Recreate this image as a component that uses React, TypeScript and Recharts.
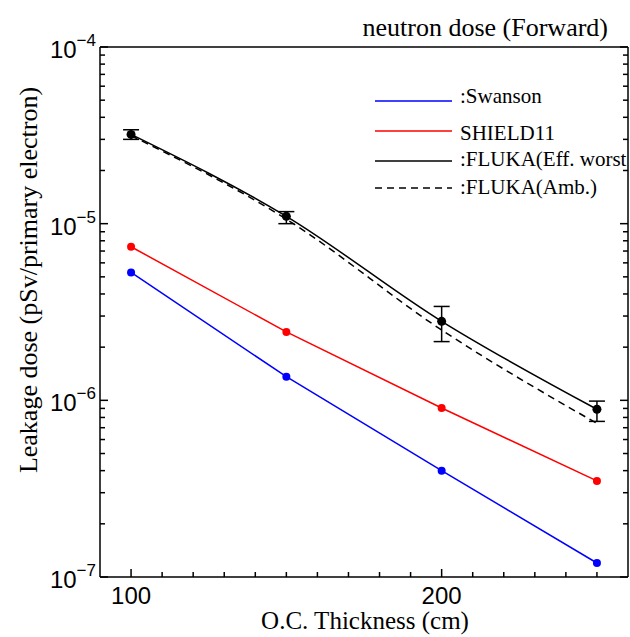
import { ComposedChart, Line, XAxis, YAxis, ErrorBar } from "recharts";

const SERIF = "'Liberation Serif', 'Times New Roman', serif";
const SANS = "'Liberation Sans', Arial, sans-serif";

// O.C. thickness (cm)
const thickness = [100, 150, 200, 250];
// leakage dose (pSv / primary electron)
const swanson = [5.3e-6, 1.36e-6, 4.0e-7, 1.2e-7];
const shield11 = [7.4e-6, 2.44e-6, 9.05e-7, 3.5e-7];
const flukaEff = [3.2e-5, 1.1e-5, 2.8e-6, 8.9e-7];
const flukaEffLow = [3.0e-5, 1.0e-5, 2.15e-6, 7.6e-7];
const flukaEffHigh = [3.4e-5, 1.17e-5, 3.4e-6, 9.9e-7];
const flukaAmb = [3.15e-5, 1.06e-5, 2.5e-6, 7.4e-7];

const xTicks = [100, 110, 120, 130, 140, 150, 160, 170, 180, 190, 200, 210, 220, 230, 240, 250];
const xMajor = [100, 200];
const yDecades = [1e-7, 1e-6, 1e-5];
const yMantissas = [1, 2, 3, 4, 5, 6, 7, 8, 9];
const yTicks = [...yDecades.flatMap((d) => yMantissas.map((m) => m * d)), 1e-4];

const data = thickness.map((t, i) => ({
  t,
  swanson: swanson[i],
  shield11: shield11[i],
  flukaEff: flukaEff[i],
  effErr: [flukaEff[i] - flukaEffLow[i], flukaEffHigh[i] - flukaEff[i]],
  flukaAmb: flukaAmb[i],
}));

const isDecade = (v: number) => {
  const l = Math.log10(v);
  return Math.abs(l - Math.round(l)) < 1e-6;
};

const XTickBottom = ({ x, y, payload }: any) => {
  const major = xMajor.includes(payload.value);
  return (
    <g>
      <line x1={x} x2={x} y1={y} y2={y - (major ? 8 : 5)} stroke="#000" strokeWidth={1.5} />
      {major && (
        <text x={x} y={y + 27} textAnchor="middle" fontFamily={SANS} fontSize={24} fill="#000">
          {payload.value}
        </text>
      )}
    </g>
  );
};

const XTickTop = ({ x, y, payload }: any) => {
  const major = xMajor.includes(payload.value);
  return <line x1={x} x2={x} y1={y} y2={y + (major ? 8 : 5)} stroke="#000" strokeWidth={1.5} />;
};

const YTickLeft = ({ x, y, payload }: any) => {
  const major = isDecade(payload.value);
  const exp = Math.round(Math.log10(payload.value));
  return (
    <g>
      <line x1={x} x2={x + (major ? 8 : 5)} y1={y} y2={y} stroke="#000" strokeWidth={1.5} />
      {major && (
        <text x={x - 4} y={y + 11} textAnchor="end" fontFamily={SANS} fontSize={24} fill="#000">
          10
          <tspan dy={-12} fontSize={17}>
            {"\u2212" + Math.abs(exp)}
          </tspan>
        </text>
      )}
    </g>
  );
};

const YTickRight = ({ x, y, payload }: any) => {
  const major = isDecade(payload.value);
  return <line x1={x} x2={x - (major ? 8 : 5)} y1={y} y2={y} stroke="#000" strokeWidth={1.5} />;
};

const legendRows = [
  { label: ":Swanson", color: "#0000ff", dash: undefined, ly: 101, ty: 103 },
  { label: "SHIELD11", color: "#ff0000", dash: undefined, ly: 131, ty: 140 },
  { label: ":FLUKA(Eff. worst", color: "#000", dash: undefined, ly: 161, ty: 166 },
  { label: ":FLUKA(Amb.)", color: "#000", dash: "7 5", ly: 188, ty: 194 },
];

const axisLine = { stroke: "#000", strokeWidth: 1.5 };

export default function App() {
  return (
    <div style={{ position: "absolute", left: 0, top: 0, width: 630, height: 637, background: "#fff" }}>
      <ComposedChart
        width={630}
        height={637}
        data={data}
        margin={{ top: 46, right: 1, bottom: 59, left: 99 }}
      >
        <XAxis
          dataKey="t"
          type="number"
          domain={[90, 260]}
          ticks={xTicks}
          interval={0}
          height={1}
          tickSize={0}
          tickMargin={0}
          tickLine={false}
          tick={<XTickBottom />}
          axisLine={axisLine}
          allowDataOverflow
        />
        <XAxis
          xAxisId="top"
          orientation="top"
          type="number"
          domain={[90, 260]}
          ticks={xTicks}
          interval={0}
          height={1}
          tickSize={0}
          tickMargin={0}
          tickLine={false}
          tick={<XTickTop />}
          axisLine={axisLine}
          allowDataOverflow
        />
        <YAxis
          type="number"
          scale="log"
          domain={[1e-7, 1e-4]}
          ticks={yTicks}
          interval={0}
          width={1}
          tickSize={0}
          tickMargin={0}
          tickLine={false}
          tick={<YTickLeft />}
          axisLine={axisLine}
          allowDataOverflow
        />
        <YAxis
          yAxisId="right"
          orientation="right"
          type="number"
          scale="log"
          domain={[1e-7, 1e-4]}
          ticks={yTicks}
          interval={0}
          width={1}
          tickSize={0}
          tickMargin={0}
          tickLine={false}
          tick={<YTickRight />}
          axisLine={axisLine}
          allowDataOverflow
        />
        <Line
          type="linear"
          dataKey="swanson"
          stroke="#0000ff"
          strokeWidth={1.5}
          dot={{ r: 4, fill: "#0000ff", stroke: "none" }}
          isAnimationActive={false}
        />
        <Line
          type="linear"
          dataKey="shield11"
          stroke="#ff0000"
          strokeWidth={1.5}
          dot={{ r: 4, fill: "#ff0000", stroke: "none" }}
          isAnimationActive={false}
        />
        <Line
          type="monotone"
          dataKey="flukaAmb"
          stroke="#000"
          strokeWidth={1.5}
          strokeDasharray="7 5"
          dot={false}
          isAnimationActive={false}
        />
        <Line
          type="monotone"
          dataKey="flukaEff"
          stroke="#000"
          strokeWidth={1.5}
          dot={{ r: 4.5, fill: "#000", stroke: "none" }}
          isAnimationActive={false}
        >
          <ErrorBar dataKey="effErr" direction="y" width={8} stroke="#000" strokeWidth={1.5} isAnimationActive={false} />
        </Line>
      </ComposedChart>
      <svg
        width={630}
        height={637}
        style={{ position: "absolute", left: 0, top: 0, pointerEvents: "none" }}
      >
        <text x={608} y={36} textAnchor="end" fontFamily={SERIF} fontSize={26} fill="#000">
          neutron dose (Forward)
        </text>
        <text x={365} y={629} textAnchor="middle" fontFamily={SERIF} fontSize={25} fill="#000">
          O.C. Thickness (cm)
        </text>
        <text
          transform="translate(37, 280) rotate(-90)"
          textAnchor="middle"
          fontFamily={SERIF}
          fontSize={26}
          fill="#000"
        >
          Leakage dose (pSv/primary electron)
        </text>
        <clipPath id="legendClip">
          <rect x={360} y={80} width={268} height={130} />
        </clipPath>
        <g clipPath="url(#legendClip)">
          {legendRows.map((r) => (
            <g key={r.label}>
              <line x1={375} x2={452} y1={r.ly} y2={r.ly} stroke={r.color} strokeWidth={1.5} strokeDasharray={r.dash} />
              <text x={460} y={r.ty} fontFamily={SERIF} fontSize={21} fill="#000">
                {r.label}
              </text>
            </g>
          ))}
        </g>
      </svg>
    </div>
  );
}
